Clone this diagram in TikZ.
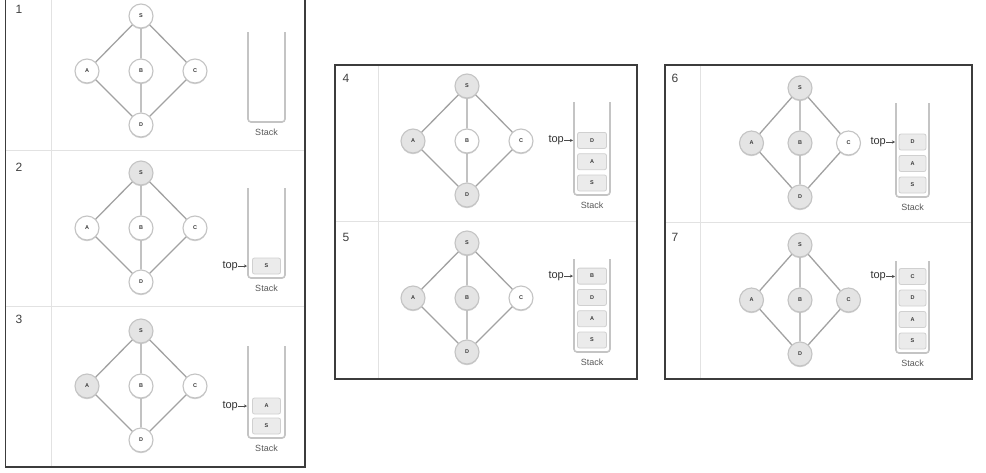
\documentclass[tikz,border=0pt]{standalone}
\usepackage{fontspec}
\setmainfont{Liberation Sans}
\usetikzlibrary{arrows.meta,calc,shadows}
\definecolor{edgec}{HTML}{A2A2A2}
\definecolor{nodeb}{HTML}{C4C4C4}
\definecolor{visf}{HTML}{E4E4E4}
\definecolor{wallc}{HTML}{C4C4C4}
\definecolor{boxb}{HTML}{D0D0D0}
\definecolor{boxf}{HTML}{EBEBEB}
\definecolor{txtc}{HTML}{3A3A3A}
\definecolor{divc}{HTML}{E2E2E2}
\definecolor{framec}{HTML}{3C3C3C}

\newcommand\grph[9]{%
  \node[gn,#5] (S#1) at (#2,#3) {S};
  \node[gn,#6] (A#1) at ({#2-#4},{#3+55}) {A};
  \node[gn,#7] (B#1) at (#2,{#3+55}) {B};
  \node[gn,#8] (C#1) at ({#2+#4},{#3+55}) {C};
  \node[gn,#9] (D#1) at (#2,{#3+109}) {D};
  \draw[edge] (S#1)--(A#1) (S#1)--(B#1) (S#1)--(C#1)
              (A#1)--(D#1) (B#1)--(D#1) (C#1)--(D#1);
}
% id, left, right, top, bottom, pitch, n, list (bottom->top), box width
\newcommand\stk[9]{%
  \draw[wall] (#2,#4) -- (#2,#5) -- (#3,#5) -- (#3,#4);
  \node[stacklbl] (lbl#1) at ({(#2+#3)/2},{#5+10}) {Stack};
  \ifnum#7>0
    \foreach \l [count=\i] in {#8} {%
      \node[sbox, minimum width=#9pt] (st#1-\i) at ({(#2+#3)/2},{#5-12-(\i-1)*#6}) {\l};}
    \coordinate (tp#1) at ({#2-1},{#5-12-(#7-1)*#6});
    \node[toptxt] (top#1) at ({#2-10},{#5-12-(#7-1)*#6}) {top};
    \draw[toparr] (top#1.east) -- (tp#1);
  \fi
}

\begin{document}
\begin{tikzpicture}[x=1pt,y=-1pt,
  gn/.style={circle, draw=nodeb, line width=1.1pt, minimum size=24pt, inner sep=0pt,
    font=\fontsize{5.5}{6}\selectfont\bfseries, text=txtc,
    drop shadow={shadow xshift=0pt, shadow yshift=-1.2pt, fill=black, opacity=0.18}},
  vis/.style={fill=visf},
  unv/.style={fill=white},
  edge/.style={draw=edgec, line width=1.3pt},
  wall/.style={draw=wallc, line width=1.6pt, rounded corners=3pt},
  sbox/.style={draw=boxb, fill=boxf, rounded corners=2pt, minimum height=16pt,
    inner sep=0pt, line width=0.8pt, font=\fontsize{5.5}{6}\selectfont\bfseries, text=txtc},
  toptxt/.style={font=\fontsize{11}{12}\selectfont, text=black!80, inner sep=0pt, anchor=east},
  toparr/.style={-{Stealth[length=3pt,width=3pt]}, line width=0.7pt, draw=black!70},
  stacklbl/.style={font=\fontsize{9}{10}\selectfont, text=black!65, inner sep=0pt},
  num/.style={font=\fontsize{12}{13}\selectfont, text=black!75, inner sep=0pt},
  frame/.style={draw=framec, line width=1.5pt},
  divline/.style={draw=divc, line width=0.9pt}
]
\useasboundingbox (0,0) rectangle (986,472);
\fill[white] (0,0) rectangle (986,472);

% ---- left panel ----
\draw[divline] (51,0) -- (51,466);
\draw[divline] (6,150) -- (304,150);
\draw[divline] (6,306) -- (304,306);
\draw[frame] (5.5,0) -- (5.5,467) -- (305,467) -- (305,0);
\node[num] (n1) at (19,9.5) {1};
\node[num] (n2) at (19,167) {2};
\node[num] (n3) at (19,319.5) {3};
\grph{1}{141}{16}{54}{unv}{unv}{unv}{unv}{unv}
\stk{1}{248}{285}{32}{122}{20}{0}{}{28}
\grph{2}{141}{173}{54}{vis}{unv}{unv}{unv}{unv}
\stk{2}{248}{285}{188}{278}{20}{1}{S}{28}
\grph{3}{141}{331}{54}{vis}{vis}{unv}{unv}{unv}
\stk{3}{248}{285}{346}{438}{20}{2}{S,A}{28}

% ---- middle panel ----
\draw[divline] (378,66) -- (378,378);
\draw[divline] (336,221) -- (636,221);
\draw[frame] (335,65) rectangle (637,379);
\node[num] (n4) at (346,78) {4};
\node[num] (n5) at (346,237) {5};
\grph{4}{467}{86}{54}{vis}{vis}{unv}{unv}{vis}
\stk{4}{574}{610}{102}{195}{21.3}{3}{S,A,D}{29}
\grph{5}{467}{243}{54}{vis}{vis}{vis}{unv}{vis}
\stk{5}{574}{610}{259}{352}{21.3}{4}{S,A,D,B}{29}

% ---- right panel ----
\draw[divline] (700,66) -- (700,378);
\draw[divline] (666,222) -- (971,222);
\draw[frame] (665,65) rectangle (972,379);
\node[num] (n6) at (675,78) {6};
\node[num] (n7) at (675,237) {7};
\grph{6}{800}{88}{48.5}{vis}{vis}{vis}{unv}{vis}
\stk{6}{896}{929}{103}{197}{21.5}{3}{S,A,D}{27}
\grph{7}{800}{245}{48.5}{vis}{vis}{vis}{vis}{vis}
\stk{7}{896}{929}{261}{353}{21.5}{4}{S,A,D,C}{27}
\end{tikzpicture}
\end{document}
